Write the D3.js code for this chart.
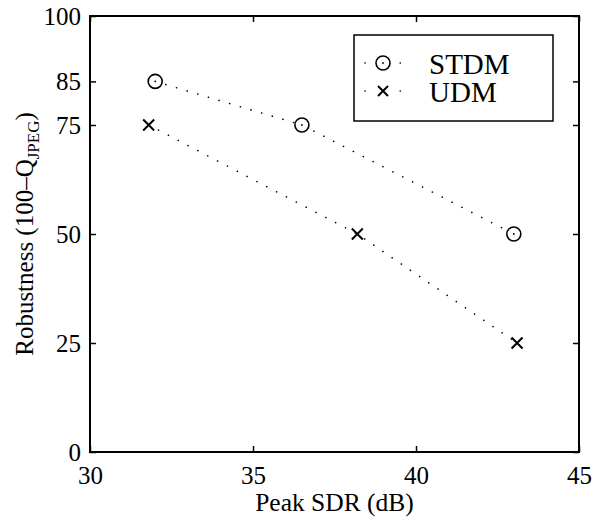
<!DOCTYPE html>
<html>
<head>
<meta charset="utf-8">
<script src="https://cdn.jsdelivr.net/npm/d3@7"></script>
<style>
  html, body { margin: 0; padding: 0; background: #fff; }
  svg text { font-family: "Liberation Serif", "DejaVu Serif", serif; fill: #000; }
</style>
</head>
<body>
<svg id="chart" width="600" height="518"></svg>
<script>
// ── Data ─────────────────────────────────────────────────────────────────────
const stdmSdr = [32.0, 36.5, 43.0];
const stdmRob = [85, 75, 50];
const udmSdr  = [31.8, 38.2, 43.1];
const udmRob  = [75, 50, 25];
const xTicks  = [30, 35, 40, 45];
const yTicks  = [0, 25, 50, 75, 85, 100];
const seriesNames = ['STDM', 'UDM'];

// ── Layout ───────────────────────────────────────────────────────────────────
const svg = d3.select('#chart');
const margin = { left: 90, right: 21, top: 16, bottom: 66 };
const W = 600, H = 518;
const width  = W - margin.left - margin.right;
const height = H - margin.top - margin.bottom;

const g = svg.append('g').attr('transform', `translate(${margin.left},${margin.top})`);

const x = d3.scaleLinear().domain([30, 45]).range([0, width]);
const y = d3.scaleLinear().domain([0, 100]).range([height, 0]);

// ── Axes (inward ticks on all four sides, box frame) ─────────────────────────
const tickLen = 6;
const fontSize = 25;

g.append('g')
  .attr('transform', `translate(0,${height})`)
  .call(d3.axisBottom(x).tickValues(xTicks).tickSizeInner(-tickLen).tickSizeOuter(0).tickPadding(14))
  .call(a => a.select('.domain').remove())
  .call(a => a.selectAll('text').attr('font-size', fontSize).attr('font-family', null));

g.append('g')
  .call(d3.axisTop(x).tickValues(xTicks).tickSizeInner(-tickLen).tickSizeOuter(0).tickFormat(''))
  .call(a => a.select('.domain').remove());

g.append('g')
  .call(d3.axisLeft(y).tickValues(yTicks).tickSizeInner(-tickLen).tickSizeOuter(0).tickPadding(9))
  .call(a => a.select('.domain').remove())
  .call(a => a.selectAll('text').attr('font-size', fontSize).attr('font-family', null));

g.append('g')
  .attr('transform', `translate(${width},0)`)
  .call(d3.axisRight(y).tickValues(yTicks).tickSizeInner(-tickLen).tickSizeOuter(0).tickFormat(''))
  .call(a => a.select('.domain').remove());

g.selectAll('.tick line').attr('stroke', '#000').attr('stroke-width', 1.5);

g.append('rect')
  .attr('width', width).attr('height', height)
  .attr('fill', 'none').attr('stroke', '#000').attr('stroke-width', 2);

// ── Axis labels ──────────────────────────────────────────────────────────────
svg.append('text')
  .attr('x', margin.left + width / 2).attr('y', 511)
  .attr('text-anchor', 'middle').attr('font-size', 25.5)
  .text('Peak SDR (dB)');

const yl = svg.append('text')
  .attr('transform', `translate(33,${margin.top + height / 2}) rotate(-90)`)
  .attr('text-anchor', 'middle').attr('font-size', fontSize);
yl.append('tspan').text('Robustness (100\u2013Q');
yl.append('tspan').attr('font-size', 17).attr('dy', 6).text('JPEG');
yl.append('tspan').attr('dy', -6).text(')');

// ── Series ───────────────────────────────────────────────────────────────────
const stdm = stdmSdr.map((v, i) => ({ x: v, y: stdmRob[i] }));
const udm  = udmSdr.map((v, i) => ({ x: v, y: udmRob[i] }));

const line = d3.line().x(d => x(d.x)).y(d => y(d.y));
const dotted = sel => sel
  .attr('fill', 'none').attr('stroke', '#000')
  .attr('stroke-width', 1.6).attr('stroke-linecap', 'round')
  .attr('stroke-dasharray', '0.1,11');

g.append('path').datum(stdm).attr('d', line).call(dotted);
g.append('path').datum(udm).attr('d', line).call(dotted);

function drawCircle(sel, cx, cy) {
  sel.append('circle').attr('cx', cx).attr('cy', cy).attr('r', 7)
    .attr('fill', '#fff').attr('stroke', '#000').attr('stroke-width', 1.6);
  sel.append('circle').attr('cx', cx).attr('cy', cy).attr('r', 0.9).attr('fill', '#000');
}
function drawCross(sel, cx, cy, s) {
  sel.append('path')
    .attr('d', `M${cx - s},${cy - s}L${cx + s},${cy + s}M${cx - s},${cy + s}L${cx + s},${cy - s}`)
    .attr('stroke', '#000').attr('stroke-width', 2).attr('fill', 'none');
}

stdm.forEach(d => drawCircle(g, x(d.x), y(d.y)));
udm.forEach(d => drawCross(g, x(d.x), y(d.y), 5.5));

// ── Legend ───────────────────────────────────────────────────────────────────
const lg = svg.append('g');
lg.append('rect')
  .attr('x', 354).attr('y', 35).attr('width', 199).attr('height', 86)
  .attr('fill', '#fff').attr('stroke', '#000').attr('stroke-width', 1.5);

const legendRows = [63, 91];
seriesNames.forEach((name, i) => {
  const ly = legendRows[i];
  lg.append('line')
    .attr('x1', 365).attr('x2', 401).attr('y1', ly).attr('y2', ly)
    .call(dotted).attr('stroke-dasharray', '0.1,17.5');
  if (i === 0) drawCircle(lg, 383, ly);
  else drawCross(lg, 383, ly, 5);
  lg.append('text')
    .attr('x', 429).attr('y', ly + 11)
    .attr('font-size', 29)
    .text(name);
});
</script>
</body>
</html>
